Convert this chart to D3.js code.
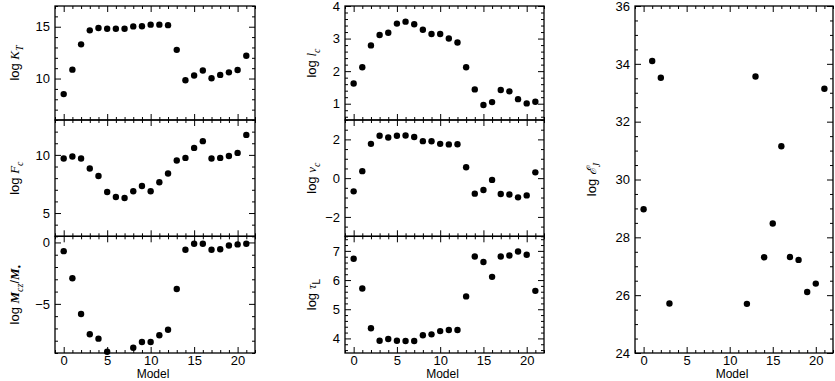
<!DOCTYPE html>
<html>
<head>
<meta charset="utf-8">
<script src="https://cdn.jsdelivr.net/npm/d3@7"></script>
<style>
  body { margin: 0; background: #fff; }
  svg { display: block; }
  .tick text { font-family: "Liberation Sans", Arial, sans-serif; font-size: 13px; fill: #000; }
  .domain { display: none; }
  .tick line { stroke: #000; stroke-width: 1; }
</style>
</head>
<body>
<svg id="chart" width="835" height="381"></svg>
<script>
// model numbers on the x axis
var models = [0, 1, 2, 3, 4, 5, 6, 7, 8, 9, 10, 11, 12, 13, 14, 15, 16, 17, 18, 19, 20, 21];
var xTicks = [0, 5, 10, 15, 20];

// left column
var logKT = [8.5, 10.86, 13.3, 14.65, 14.88, 14.8, 14.8, 14.8, 15.03, 15.05, 15.2, 15.2, 15.15, 12.77, 9.84, 10.29, 10.77, 10.03, 10.35, 10.6, 10.83, 12.2];
var logFc = [9.69, 9.86, 9.69, 8.83, 8.19, 6.81, 6.38, 6.29, 6.87, 7.33, 6.87, 7.65, 8.4, 9.52, 9.74, 10.6, 11.18, 9.69, 9.74, 9.91, 10.17, 11.72];
var logMcz = [-0.71, -2.91, -5.82, -7.47, -7.83, -8.9, null, null, -8.57, -8.1, -8.1, -7.55, -7.11, -3.79, -0.6, -0.11, -0.11, -0.6, -0.55, -0.25, -0.16, -0.11];

// middle column
var logLc = [1.62, 2.12, 2.79, 3.11, 3.18, 3.46, 3.52, 3.44, 3.27, 3.14, 3.14, 3.0, 2.88, 2.12, 1.44, 0.96, 1.05, 1.42, 1.38, 1.14, 1.01, 1.06];
var logNuc = [-0.68, 0.36, 1.77, 2.19, 2.1, 2.19, 2.2, 2.12, 1.91, 1.9, 1.77, 1.74, 1.75, 0.56, -0.8, -0.61, -0.09, -0.82, -0.84, -0.99, -0.89, 0.3];
var logTauL = [6.73, 5.71, 4.35, 3.92, 3.98, 3.92, 3.91, 3.91, 4.11, 4.14, 4.25, 4.29, 4.29, 5.44, 6.81, 6.62, 6.11, 6.81, 6.84, 6.98, 6.87, 5.63];

// right column
var logEJ = [28.97, 34.1, 33.52, 25.71, null, null, null, null, null, null, null, null, 25.7, 33.56, 27.31, 28.48, 31.15, 27.32, 27.22, 26.11, 26.4, 33.14];

// tick labels per panel
var kTTicks = [10, 15];
var fcTicks = [5, 10];
var mczTicks = [-5, 0];
var lcTicks = [1, 2, 3, 4];
var nucTicks = [-2, 0, 2];
var tauTicks = [4, 5, 6, 7];
var eJTicks = [24, 26, 28, 30, 32, 34, 36];

var svg = d3.select("#chart");

var cols = [[55, 255], [345, 544], [635, 833]];
var rows = [[6, 120], [120, 236.3], [236.3, 353]];

var panels = [
  {col: 0, top: rows[0][0], bottom: rows[0][1], values: logKT, domain: [6, 17], ticks: kTTicks, minor: 1, xLabels: false,
    label: [["log ", "n"], ["K", "i"], ["T", "sub"]]},
  {col: 0, top: rows[1][0], bottom: rows[1][1], values: logFc, domain: [3, 13], ticks: fcTicks, minor: 1, xLabels: false,
    label: [["log ", "n"], ["F", "i"], ["c", "sub"]]},
  {col: 0, top: rows[2][0], bottom: rows[2][1], values: logMcz, domain: [-9, 0.5], ticks: mczTicks, minor: 1, xLabels: true,
    label: [["log ", "n"], ["M", "b"], ["cz", "sub"], ["/", "r"], ["M", "b"], ["\u2022", "sub"]]},
  {col: 1, top: rows[0][0], bottom: rows[0][1], values: logLc, domain: [0.5, 4], ticks: lcTicks, minor: 0.2, xLabels: false,
    label: [["log ", "n"], ["l", "i"], ["c", "sub"]]},
  {col: 1, top: rows[1][0], bottom: rows[1][1], values: logNuc, domain: [-3, 3], ticks: nucTicks, minor: 0.5, xLabels: false,
    label: [["log ", "n"], ["\u03bd", "i"], ["c", "sub"]]},
  {col: 1, top: rows[2][0], bottom: rows[2][1], values: logTauL, domain: [3.5, 7.5], ticks: tauTicks, minor: 0.2, xLabels: true,
    label: [["log ", "n"], ["\u03c4", "i"], ["L", "subs"]]},
  {col: 2, top: rows[0][0], bottom: rows[2][1], values: logEJ, domain: [24, 36], ticks: eJTicks, minor: 0.5, xLabels: true,
    label: [["log ", "n"], ["\u2130", "i"], ["J", "sub"]]}
];

var labelX = [19, 316, 596];

panels.forEach(function(p) {
  var x = d3.scaleLinear().domain([-1, 22]).range(cols[p.col]);
  var y = d3.scaleLinear().domain(p.domain).range([p.bottom, p.top]);
  var g = svg.append("g");

  var minorX = d3.range(-1, 22.01, 1).filter(function(v) { return xTicks.indexOf(v) < 0; });
  var minorY = d3.range(Math.ceil(p.domain[0] / p.minor) * p.minor, p.domain[1] + 1e-6, p.minor)
    .map(function(v) { return +v.toFixed(3); })
    .filter(function(v) { return p.ticks.indexOf(v) < 0; });

  // inward ticks on all four sides
  [["b", d3.axisBottom, p.bottom], ["t", d3.axisTop, p.top]].forEach(function(s) {
    g.append("g").attr("transform", "translate(0," + s[2] + ")")
      .call(s[1](x).tickValues(xTicks).tickSize(-6).tickPadding(3)
        .tickFormat(s[0] == "b" && p.xLabels ? d3.format("d") : ""));
    g.append("g").attr("transform", "translate(0," + s[2] + ")")
      .call(s[1](x).tickValues(minorX).tickSize(-3).tickFormat(""));
  });
  [["l", d3.axisLeft, cols[p.col][0]], ["r", d3.axisRight, cols[p.col][1]]].forEach(function(s) {
    g.append("g").attr("transform", "translate(" + s[2] + ",0)")
      .call(s[1](y).tickValues(p.ticks).tickSize(-6).tickPadding(5)
        .tickFormat(s[0] == "l" ? d3.format("d") : ""));
    g.append("g").attr("transform", "translate(" + s[2] + ",0)")
      .call(s[1](y).tickValues(minorY).tickSize(-3).tickFormat(""));
  });

  // frame
  g.append("rect")
    .attr("x", cols[p.col][0]).attr("y", p.top)
    .attr("width", cols[p.col][1] - cols[p.col][0]).attr("height", p.bottom - p.top)
    .attr("fill", "none").attr("stroke", "#000").attr("stroke-width", 1.3);

  // points
  var pts = models.map(function(m, i) { return {m: m, v: p.values[i]}; })
    .filter(function(d) { return d.v != null; });
  g.selectAll("circle").data(pts).enter().append("circle")
    .attr("cx", function(d) { return x(d.m); })
    .attr("cy", function(d) { return y(d.v); })
    .attr("r", 3.2)
    .attr("fill", "#000");

  if (p.xLabels) {
    g.append("text")
      .attr("x", (cols[p.col][0] + cols[p.col][1]) / 2 - 2)
      .attr("y", 378)
      .attr("text-anchor", "middle")
      .style("font-family", "Liberation Sans, Arial, sans-serif")
      .style("font-size", "12px")
      .text("Model");
  }

  // rotated y label
  var cy = (p.top + p.bottom) / 2;
  var t = g.append("text")
    .attr("transform", "translate(" + labelX[p.col] + "," + cy + ") rotate(-90)")
    .attr("text-anchor", "middle")
    .style("font-size", "13px");
  var shifted = false;
  p.label.forEach(function(part) {
    var ts = t.append("tspan").text(part[0]);
    var kind = part[1];
    if (kind == "n" || kind == "r") {
      ts.style("font-family", "Liberation Sans, Arial, sans-serif");
    } else if (kind == "subs") {
      ts.style("font-family", "Liberation Sans, Arial, sans-serif").style("font-size", "10px");
    } else {
      ts.style("font-family", "Liberation Serif, Times, serif").style("font-style", "italic");
      if (kind == "b") ts.style("font-weight", "bold");
      if (kind == "sub") ts.style("font-size", "10px");
    }
    var isSub = (kind == "sub" || kind == "subs");
    if (isSub && !shifted) { ts.attr("dy", 4); shifted = true; }
    if (!isSub && shifted) { ts.attr("dy", -4); shifted = false; }
  });
});
</script>
</body>
</html>
